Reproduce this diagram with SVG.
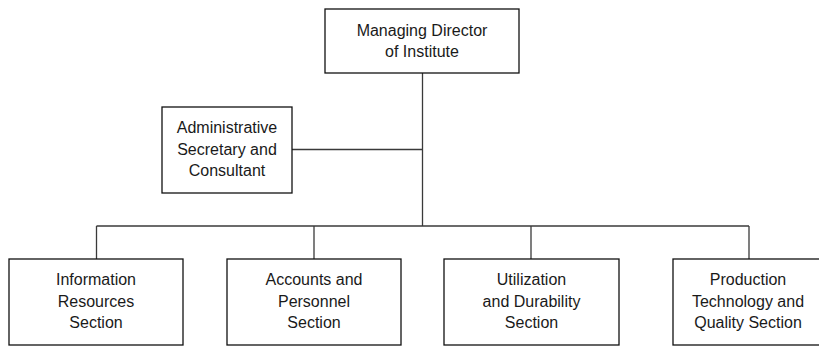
<svg xmlns="http://www.w3.org/2000/svg" width="819" height="346" viewBox="0 0 819 346">
<style>
.box{fill:#fff;stroke:#111;stroke-width:1.3}
.lbl{font-family:"Liberation Sans",Arial,sans-serif;font-size:16px;fill:#1a1a1a;text-anchor:middle}
.con{fill:none;stroke:#3a3a3a;stroke-width:1.3}
</style>
<rect width="819" height="346" fill="#fff"/>
<g id="connectors">
<line class="con" x1="422.5" y1="73" x2="422.5" y2="226"/>
<line class="con" x1="292" y1="149.5" x2="422.5" y2="149.5"/>
<line class="con" x1="96.5" y1="226" x2="749" y2="226"/>
<line class="con" x1="96.5" y1="226" x2="96.5" y2="259"/>
<line class="con" x1="314" y1="226" x2="314" y2="259"/>
<line class="con" x1="531" y1="226" x2="531" y2="259"/>
<line class="con" x1="749" y1="226" x2="749" y2="259"/>
</g>
<g id="director">
<rect class="box" x="325" y="9" width="194" height="64"/>
<text class="lbl" x="422" y="36">Managing Director</text>
<text class="lbl" x="422" y="57">of Institute</text>
</g>
<g id="secretary">
<rect class="box" x="162" y="107" width="130" height="86"/>
<text class="lbl" x="227" y="133">Administrative</text>
<text class="lbl" x="227" y="155">Secretary and</text>
<text class="lbl" x="227" y="176">Consultant</text>
</g>
<g id="information">
<rect class="box" x="9" y="259" width="174" height="86"/>
<text class="lbl" x="96" y="285">Information</text>
<text class="lbl" x="96" y="307">Resources</text>
<text class="lbl" x="96" y="328">Section</text>
</g>
<g id="accounts">
<rect class="box" x="227" y="259" width="174" height="86"/>
<text class="lbl" x="314" y="285">Accounts and</text>
<text class="lbl" x="314" y="307">Personnel</text>
<text class="lbl" x="314" y="328">Section</text>
</g>
<g id="utilization">
<rect class="box" x="444" y="259" width="175" height="86"/>
<text class="lbl" x="531.5" y="285">Utilization</text>
<text class="lbl" x="531.5" y="307">and Durability</text>
<text class="lbl" x="531.5" y="328">Section</text>
</g>
<g id="production">
<rect class="box" x="673" y="259" width="152" height="86"/>
<text class="lbl" x="748" y="285">Production</text>
<text class="lbl" x="748" y="307">Technology and</text>
<text class="lbl" x="748" y="328">Quality Section</text>
</g>
</svg>
